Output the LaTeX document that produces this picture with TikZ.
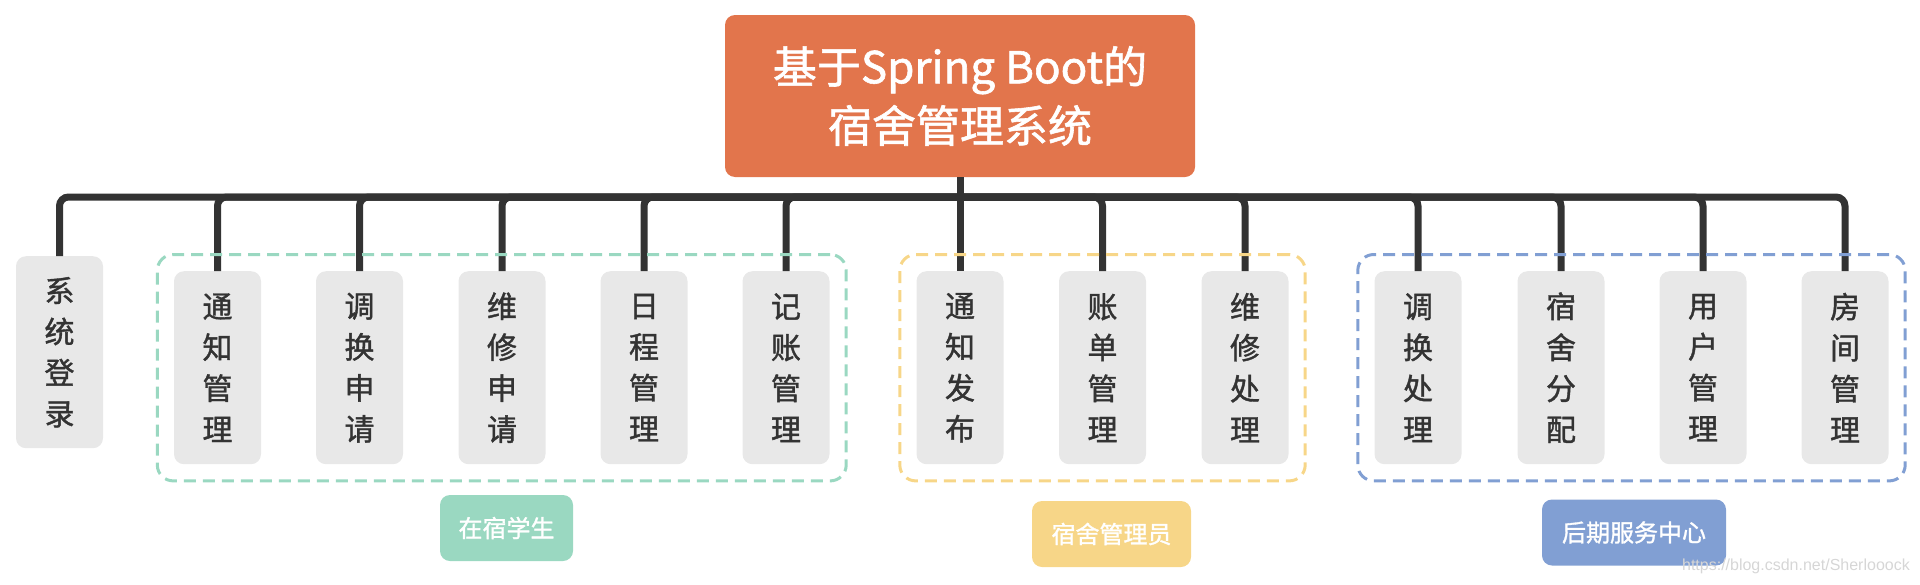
\documentclass[tikz,border=0pt]{standalone}
\usepackage{fontspec}
\setmainfont{Noto Sans CJK SC}
\newfontfamily\medfont{Noto Sans CJK SC}[FakeBold=1.3]
\newfontfamily\wmfont{Liberation Sans}
\usetikzlibrary{fit}
\definecolor{rootc}{HTML}{E2754C}
\definecolor{leafc}{HTML}{E8E8E8}
\definecolor{darkc}{HTML}{333333}
\definecolor{greenc}{HTML}{9AD8C1}
\definecolor{yellowc}{HTML}{F7D688}
\definecolor{bluec}{HTML}{819FD3}
\definecolor{wmc}{HTML}{D6D6D6}
\begin{document}
\begin{tikzpicture}[x=1pt,y=-1pt,
  rootbox/.style={fill=rootc, rounded corners=10pt, minimum width=470pt, minimum height=162pt,
    text=white, align=center, font=\medfont\fontsize{44}{59}\selectfont, inner sep=0pt},
  leafbox/.style={fill=leafc, rounded corners=10pt, minimum width=87pt, minimum height=193pt,
    text=darkc, align=center, font=\medfont\fontsize{30}{41}\selectfont, anchor=north, inner sep=0pt},
  conn/.style={draw=darkc, line width=7pt, rounded corners=9pt},
  grpbox/.style={draw=#1, line width=3pt, dash pattern=on 12pt off 7pt, rounded corners=16pt, inner sep=16.5pt},
  tagbox/.style={fill=#1, rounded corners=10pt, text=white, font=\medfont\fontsize{24}{24}\selectfont,
    minimum height=66pt, inner sep=0pt}
]
\useasboundingbox (0,0) rectangle (1920,584);

% root
\node[rootbox] (root) at (960,96) {基于Spring Boot的\\宿舍管理系统};

% leaves
\node[leafbox, minimum height=192pt] (l0) at (59.5,256) {系\\统\\登\\录};
\node[leafbox] (l1) at (217.5,271) {通\\知\\管\\理};
\node[leafbox] (l2) at (359.5,271) {调\\换\\申\\请};
\node[leafbox] (l3) at (502,271) {维\\修\\申\\请};
\node[leafbox] (l4) at (644,271) {日\\程\\管\\理};
\node[leafbox] (l5) at (786,271) {记\\账\\管\\理};
\node[leafbox] (l6) at (960,271) {通\\知\\发\\布};
\node[leafbox] (l7) at (1102.5,271) {账\\单\\管\\理};
\node[leafbox] (l8) at (1245,271) {维\\修\\处\\理};
\node[leafbox] (l9) at (1418,271) {调\\换\\处\\理};
\node[leafbox] (l10) at (1561,271) {宿\\舍\\分\\配};
\node[leafbox] (l11) at (1703,271) {用\\户\\管\\理};
\node[leafbox] (l12) at (1845,271) {房\\间\\管\\理};

% connectors
\coordinate (hub) at (960,197);
\draw[conn] (root.south) -- (l6.north);
\foreach \n in {l0,l1,l2,l3,l4,l5,l7,l8,l9,l10,l11,l12}
  \draw[conn] (hub) -- (hub -| \n.north) -- (\n.north);

% groups
\node[grpbox=greenc, fit=(l1)(l5)] (g1) {};
\node[grpbox=yellowc, fit=(l6)(l8)] (g2) {};
\node[grpbox=bluec, fit=(l9)(l12)] (g3) {};

% tags
\node[tagbox=greenc, minimum width=133pt] (t1) at (506.5,528) {在宿学生};
\node[tagbox=yellowc, minimum width=159pt] (t2) at (1111.5,534) {宿舍管理员};
\node[tagbox=bluec, minimum width=184pt] (t3) at (1634,532.5) {后期服务中心};

% watermark
\node[anchor=base east, text=wmc, font=\wmfont\fontsize{16}{16}\selectfont, inner sep=0pt] (wm) at (1910,570) {https://blog.csdn.net/Sherlooock};
\end{tikzpicture}
\end{document}
